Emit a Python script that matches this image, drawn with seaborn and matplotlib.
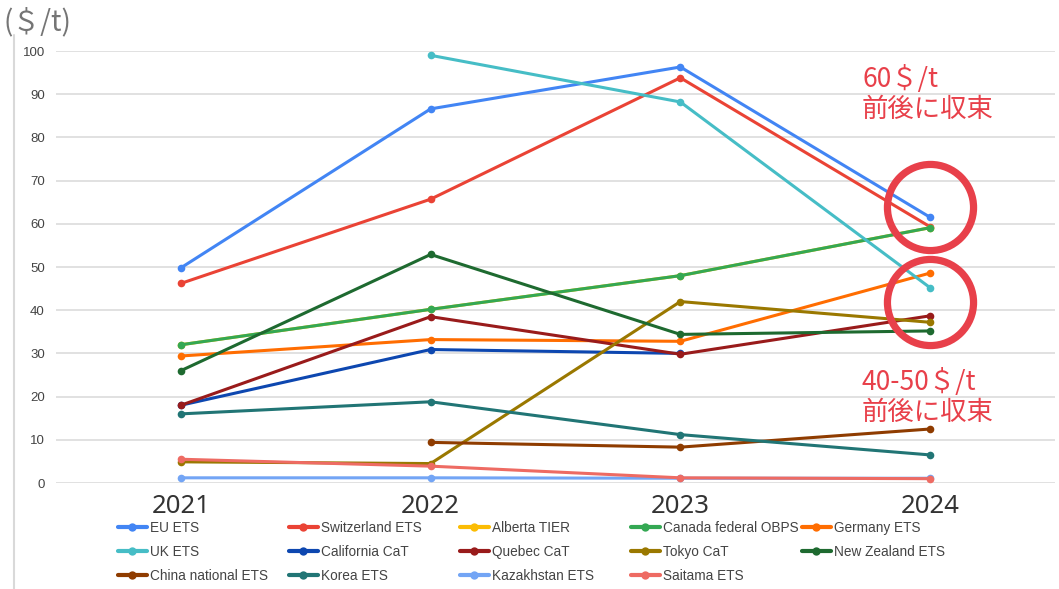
import numpy as np
import pandas as pd
import seaborn as sns
import matplotlib.pyplot as plt
from matplotlib.lines import Line2D

# ---------------- data ----------------
years = [2021, 2022, 2023, 2024]
nan = np.nan
schemes = ["EU ETS", "Switzerland ETS", "Alberta TIER", "Canada federal OBPS", "Germany ETS",
           "UK ETS", "California CaT", "Quebec CaT", "Tokyo CaT", "New Zealand ETS",
           "China national ETS", "Korea ETS", "Kazakhstan ETS", "Saitama ETS"]
eu_ets = [49.8, 86.6, 96.3, 61.5]
switzerland_ets = [46.2, 65.7, 93.8, 59.3]
alberta_tier = [32.0, 40.2, 48.0, 59.1]
canada_obps = [32.0, 40.2, 48.0, 59.1]
germany_ets = [29.4, 33.2, 32.8, 48.6]
uk_ets = [nan, 99.0, 88.2, 45.2]
california_cat = [18.0, 30.9, 30.0, nan]
quebec_cat = [18.0, 38.5, 29.8, 38.7]
tokyo_cat = [4.9, 4.5, 42.0, 37.2]
new_zealand_ets = [26.0, 52.9, 34.4, 35.2]
china_ets = [nan, 9.4, 8.3, 12.5]
korea_ets = [16.0, 18.8, 11.2, 6.5]
kazakhstan_ets = [1.2, 1.2, 1.1, 1.1]
saitama_ets = [5.5, 3.9, 1.2, 1.0]
series = [eu_ets, switzerland_ets, alberta_tier, canada_obps, germany_ets,
          uk_ets, california_cat, quebec_cat, tokyo_cat, new_zealand_ets,
          china_ets, korea_ets, kazakhstan_ets, saitama_ets]
colors = ["#4285F4", "#EA4335", "#FBBC04", "#34A853", "#FF6D01",
          "#46BDC6", "#0D47B0", "#991B1B", "#9A7800", "#1E6A30",
          "#8F3C00", "#217575", "#73A5F5", "#EE6B63"]
y_ticks = list(range(0, 101, 10))

rows = []
for name, vals in zip(schemes, series):
    for yr, v in zip(years, vals):
        if not np.isnan(v):
            rows.append({"year": yr, "price": v, "scheme": name})
df = pd.DataFrame(rows)

# ---------------- figure ----------------
sns.set_theme(style="white")
plt.rcParams['font.family'] = ['Liberation Sans', 'DejaVu Sans']
W, H = 1059, 589
fig = plt.figure(figsize=(W / 100, H / 100), dpi=100)
ax = fig.add_axes([56 / W, (H - 483) / H, (1055 - 56) / W, (483 - 51) / H])

sns.lineplot(data=df, x="year", y="price", hue="scheme", hue_order=schemes,
             palette=dict(zip(schemes, colors)), marker="o", markersize=5.5,
             markeredgewidth=0, linewidth=2.2, estimator=None, errorbar=None,
             legend=False, ax=ax)

ax.set_xlim(2020.5, 2024.5)
ax.set_ylim(0, 100)
ax.set_xticks(years)
ax.set_xticklabels([str(y) for y in years], fontsize=18.5, color="#333333",
                   family=["Noto Sans", "DejaVu Sans"], fontweight="light")
ax.set_yticks(y_ticks)
ax.set_yticklabels([str(t) for t in y_ticks], fontsize=9.5, color="#444444")
ax.tick_params(axis="y", length=0, pad=8)
ax.tick_params(axis="x", length=0, pad=8)
ax.set_xlabel("")
ax.set_ylabel("")
ax.yaxis.grid(True, color="#d9d9d9", linewidth=1.1)
ax.xaxis.grid(False)
ax.set_axisbelow(True)
for s in ax.spines.values():
    s.set_visible(False)

red = "#E8404A"
# highlight circles
ax.plot([2024], [63.9], marker="o", ms=62, mfc="none", mec=red, mew=5.2, clip_on=False)
ax.plot([2024], [41.8], marker="o", ms=62, mfc="none", mec=red, mew=5.2, clip_on=False)

cjk = ["Noto Sans CJK JP", "DejaVu Sans"]
fig.text(862 / W, 1 - 94 / H, "60＄/t\n前後に収束", ha="left", va="center",
         fontsize=19, color=red, family=cjk, linespacing=1.1)
fig.text(862 / W, 1 - 397 / H, "40-50＄/t\n前後に収束", ha="left", va="center",
         fontsize=19, color=red, family=cjk, linespacing=1.1)

# y unit label
fig.text(4 / W, 1 - 22 / H, "(＄/t)", ha="left", va="center", fontsize=20,
         color="#757575", family=cjk)

# thin vertical decoration line on left
fig.add_artist(Line2D([14 / W, 14 / W], [1 - 35 / H, 0], color="#d9d9d9",
                      lw=1.5, transform=fig.transFigure))

# legend: 5 columns x 3 rows, evenly spaced
col_x = [118, 289, 460, 631, 802]
row_y = [528, 552, 576]
for i, (name, c) in enumerate(zip(schemes, colors)):
    r, k = divmod(i, 5)
    h = Line2D([], [], color=c, lw=3, marker="o", ms=6, mew=0)
    fig.legend([h], [name], loc="center left",
               bbox_to_anchor=(col_x[k] / W, 1 - row_y[r] / H),
               bbox_transform=fig.transFigure, frameon=False, borderpad=0,
               borderaxespad=0, handlelength=2.1, handletextpad=0.25,
               fontsize=9.8, labelcolor="#444444")

fig.savefig("out.png", dpi=100)
